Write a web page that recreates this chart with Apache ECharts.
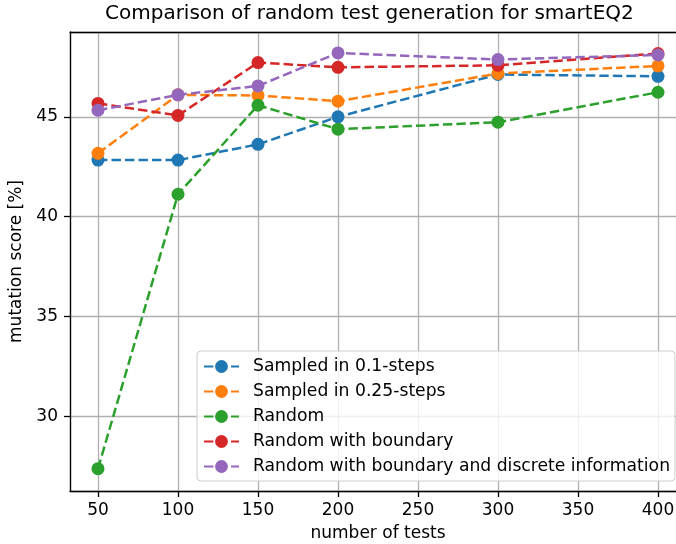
<!DOCTYPE html>
<html>
<head>
<meta charset="utf-8">
<script src="https://cdn.jsdelivr.net/npm/echarts@6/dist/echarts.min.js"></script>
<style>
html,body{margin:0;padding:0;background:#fff;overflow:hidden;}
#chart{width:676px;height:544px;}
</style>
</head>
<body>
<div id="chart"></div>
<script>
const tests = [50, 100, 150, 200, 300, 400];
const xTicks = [50, 100, 150, 200, 250, 300, 350, 400];
const yTicks = [30, 35, 40, 45];
const seriesNames = [
  'Sampled in 0.1-steps',
  'Sampled in 0.25-steps',
  'Random',
  'Random with boundary',
  'Random with boundary and discrete information'
];
const sampled01 = [42.83, 42.83, 43.62, 45.0, 47.12, 47.03];
const sampled025 = [43.17, 46.1, 46.07, 45.78, 47.17, 47.55];
const randomOnly = [27.37, 41.12, 45.58, 44.38, 44.73, 46.23];
const randomBoundary = [45.67, 45.07, 47.72, 47.48, 47.58, 48.17];
const randomBoundaryDiscrete = [45.33, 46.1, 46.55, 48.2, 47.87, 48.1];
const colors = ['#1f77b4', '#ff7f0e', '#2ca02c', '#d62728', '#9467bd'];
const allValues = [sampled01, sampled025, randomOnly, randomBoundary, randomBoundaryDiscrete];

const font = 'DejaVu Sans';
const chart = echarts.init(document.getElementById('chart'), null, {renderer: 'canvas'});

const series = allValues.map((vals, i) => ({
  name: seriesNames[i],
  type: 'line',
  xAxisIndex: 0,
  data: tests.map((t, j) => [t, vals[j]]),
  symbol: 'circle',
  symbolSize: 13,
  showSymbol: true,
  color: colors[i],
  itemStyle: {color: colors[i]},
  lineStyle: {color: colors[i], width: 2.5, type: [9.4, 4.1]},
  emphasis: {disabled: true},
  animation: false,
  z: 2 + i
}));

const axisLineStyle = {color: '#000', width: 1.3};

chart.setOption({
  animation: false,
  backgroundColor: '#ffffff',
  title: {
    text: 'Comparison of random test generation for smartEQ2',
    left: 105,
    top: 4,
    padding: 0,
    textStyle: {fontFamily: font, fontSize: 20, fontWeight: 'normal', color: '#000'}
  },
  grid: {
    left: 70, width: 616, top: 32, height: 459,
    containLabel: false,
    outerBoundsMode: 'none',
    show: false
  },
  legend: {
    orient: 'vertical',
    left: 197,
    top: 351,
    padding: [7, 5, 6, 6],
    itemGap: 8,
    itemWidth: 35,
    itemHeight: 16,
    backgroundColor: 'rgba(255,255,255,0.8)',
    borderColor: '#cccccc',
    borderWidth: 1,
    borderRadius: 4,
    textStyle: {fontFamily: font, fontSize: 17.2, lineHeight: 17, color: '#000', padding: [0, 0, 0, 9]},
    data: seriesNames
  },
  xAxis: [{
    type: 'value',
    position: 'bottom',
    min: 32.5,
    max: 417.5,
    splitNumber: 8,
    name: 'number of tests',
    nameLocation: 'middle',
    nameGap: 34,
    nameTextStyle: {fontFamily: font, fontSize: 17, color: '#000'},
    axisLine: {show: true, onZero: false, lineStyle: axisLineStyle},
    axisTick: {show: true, inside: false, length: 6, lineStyle: axisLineStyle},
    axisLabel: {
      fontFamily: font, fontSize: 17, color: '#000', margin: 11,
      showMinLabel: false, showMaxLabel: false,
      formatter: v => (xTicks.indexOf(v) >= 0 ? String(v) : '')
    },
    splitLine: {show: true, lineStyle: {color: '#b0b0b0', width: 1.3}}
  }, {
    type: 'value',
    position: 'top',
    min: 32.5,
    max: 417.5,
    axisLine: {show: true, onZero: false, lineStyle: axisLineStyle},
    axisTick: {show: false},
    axisLabel: {show: false},
    splitLine: {show: false}
  }],
  yAxis: {
    type: 'value',
    min: 26.25,
    max: 49.25,
    splitNumber: 5,
    name: 'mutation score [%]',
    nameLocation: 'middle',
    nameRotate: 90,
    nameGap: 37,
    nameTextStyle: {fontFamily: font, fontSize: 17, color: '#000'},
    axisLine: {show: true, onZero: false, lineStyle: axisLineStyle},
    axisTick: {show: true, inside: false, length: 6, lineStyle: axisLineStyle},
    axisLabel: {
      fontFamily: font, fontSize: 17, color: '#000', margin: 12,
      showMinLabel: false, showMaxLabel: false,
      formatter: v => (yTicks.indexOf(v) >= 0 ? String(v) : '')
    },
    splitLine: {show: true, lineStyle: {color: '#b0b0b0', width: 1.3}}
  },
  series: series
});
</script>
</body>
</html>
